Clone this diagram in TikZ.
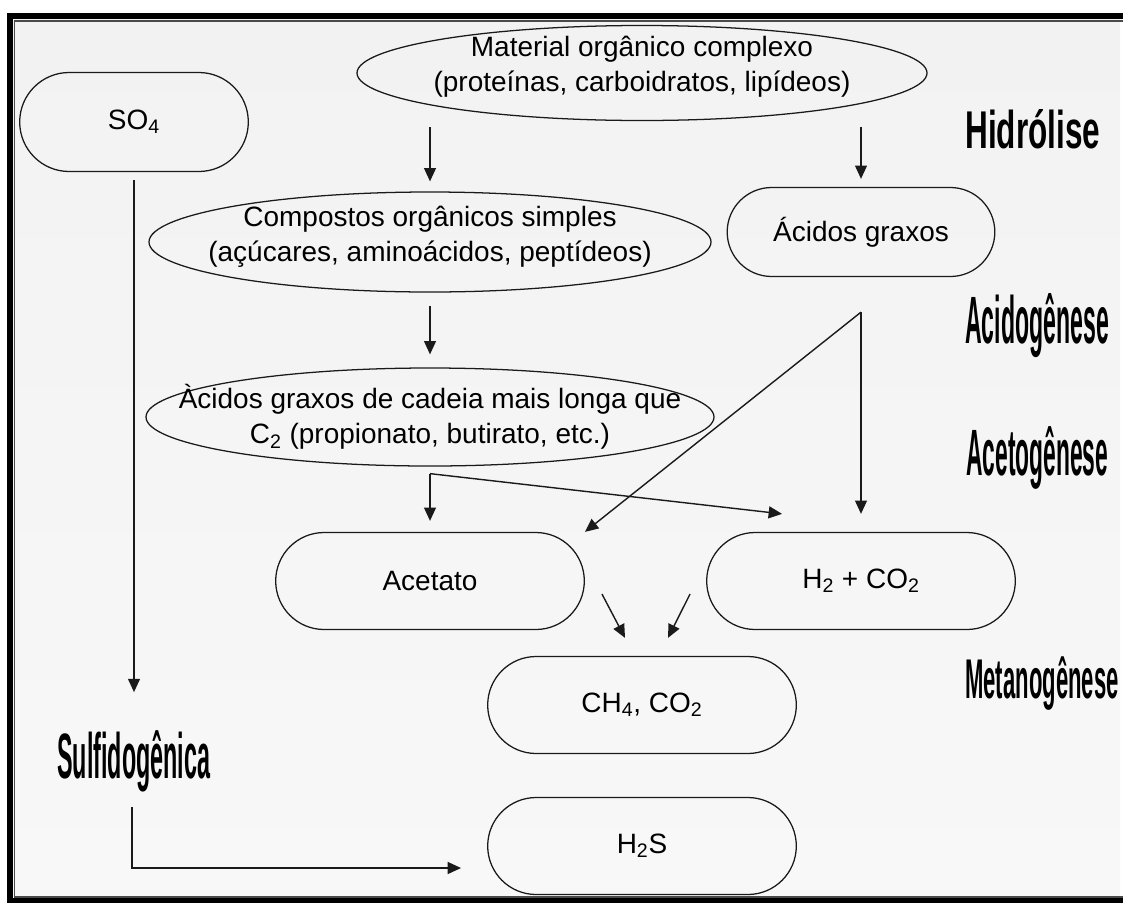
\documentclass[tikz,border=0pt]{standalone}
\usepackage{fontspec}
\setmainfont{Liberation Sans}
\usepackage{graphicx}
\usetikzlibrary{shapes.geometric, shapes.misc, arrows.meta, calc}
\usepackage{xcolor}
\def\pxl{0.025cm}
\definecolor{paperTop}{HTML}{F2F2F2}
\definecolor{paperBottom}{HTML}{F8F8F8}
\definecolor{lineDark}{HTML}{1A1A1A}
\definecolor{frameInner}{HTML}{4A4A4A}
\tikzset{
    BoxText/.style={font=\fontsize{19.9}{25}\selectfont, text=black},
    StageText/.style={font=\fontsize{20}{24}\selectfont\bfseries, inner sep=0pt, anchor=base west},
    PillBox/.style={rounded rectangle, draw=lineDark, line width=0.9pt, minimum width=318*\pxl, minimum height=97*\pxl, BoxText},
    OvalBox/.style={ellipse, draw=lineDark, line width=0.9pt, inner sep=0pt},
    OvalText/.style={BoxText, align=center},
    FlowArrow/.style={-{Triangle[length=9.5pt, width=8.5pt]}, line width=1pt, draw=lineDark}
}

\begin{document}
\begin{tikzpicture}[x=\pxl, y=-\pxl]
    \useasboundingbox (0,0) rectangle (1123,902);

    % --- fundo e moldura dupla ---
    \shade[top color=paperTop, bottom color=paperBottom] (10,16) rectangle (1120,901);
    \draw[black, line width=4.3pt] (9.8,16) rectangle (1140,901);
    \draw[frameInner, line width=1.1pt] (14.7,21) rectangle (1140,897);

    % --- caixas ---
    \node[PillBox, minimum width=238*\pxl, minimum height=99*\pxl] (so4) at (134,122) {SO\textsubscript{4}};
    \node[OvalBox, minimum width=570*\pxl, minimum height=95*\pxl,
          label={[OvalText, yshift=6*\pxl]center:{Material orgânico complexo\\(proteínas, carboidratos, lipídeos)}}] (material) at (642,73) {};
    \node[OvalBox, minimum width=562*\pxl, minimum height=100*\pxl,
          label={[OvalText, yshift=5*\pxl]center:{Compostos orgânicos simples\\(açúcares, aminoácidos, peptídeos)}}] (compostos) at (430,242) {};
    \node[PillBox, minimum width=277*\pxl, minimum height=89*\pxl] (acidos) at (861,232) {Ácidos graxos};
    \node[OvalBox, minimum width=568*\pxl, minimum height=98*\pxl,
          label={[OvalText]center:{Àcidos graxos de cadeia mais longa que\\C\textsubscript{2} (propionato, butirato, etc.)}}] (cadeia) at (430,417) {};
    \node[PillBox] (acetato) at (430,581) {Acetato};
    \node[PillBox] (h2co2) at (861,581) {H\textsubscript{2} + CO\textsubscript{2}};
    \node[PillBox] (ch4) at (642,705) {CH\textsubscript{4}, CO\textsubscript{2}};
    \node[PillBox] (h2s) at (642,846) {H\textsubscript{2}S};

    % --- etapas (texto condensado) ---
    \node[StageText] (hidrolise) at (965,148) {\scalebox{1.12}[1.89]{Hidrólise}};
    \node[StageText] (acidogenese) at (965,343) {\scalebox{0.82}[2.38]{Acidogênese}};
    \node[StageText] (acetogenese) at (966,475) {\scalebox{0.81}[2.33]{Acetogênese}};
    \node[StageText] (metanogenese) at (965,698) {\scalebox{0.785}[1.99]{Metanogênese}};
    \node[StageText] (sulf) at (57,778) {\scalebox{0.83}[2.28]{Sulfidogênica}};

    % --- pontos livres das setas ---
    \coordinate (cadeiaSplit) at ($(cadeia.south)+(0,7)$);
    \coordinate (acidosSplit) at ($(acidos.south)+(0,35)$);
    \coordinate (h2In) at ($(h2co2.north)+(-79,-18)$);
    \coordinate (sulfIn) at ($(so4.south)+(0,520)$);
    \coordinate (sulfOut) at ($(sulf.base)+(-2,29)$);
    \coordinate (h2sIn) at ($(h2s.west)+(-26,22)$);

    % --- setas ---
    \draw[FlowArrow, shorten <=6*\pxl, shorten >=10*\pxl] (material.south -| compostos.north) -- (compostos.north);
    \draw[FlowArrow, shorten <=6*\pxl, shorten >=8*\pxl] (material.south -| acidos.north) -- (acidos.north);
    \draw[FlowArrow, shorten <=13*\pxl, shorten >=13*\pxl] (compostos.south) -- (cadeia.north);
    \draw[FlowArrow, shorten >=11*\pxl] (cadeiaSplit) -- (acetato.north);
    \draw[FlowArrow] (cadeiaSplit) -- (h2In);
    \draw[FlowArrow, shorten >=18*\pxl] (acidosSplit) -- (h2co2.north);
    \draw[FlowArrow] (acidosSplit) -- (acetato.east |- acetato.north);
    \draw[FlowArrow] ($(acetato.east)+(17,13)$) -- ($(ch4.north)+(-17,-18)$);
    \draw[FlowArrow] ($(h2co2.west)+(-16,13)$) -- ($(ch4.north)+(26,-18)$);
    \draw[FlowArrow, shorten <=8*\pxl] (so4.south) -- (sulfIn);
    \draw[FlowArrow] (sulfOut) |- (h2sIn);
\end{tikzpicture}
\end{document}
